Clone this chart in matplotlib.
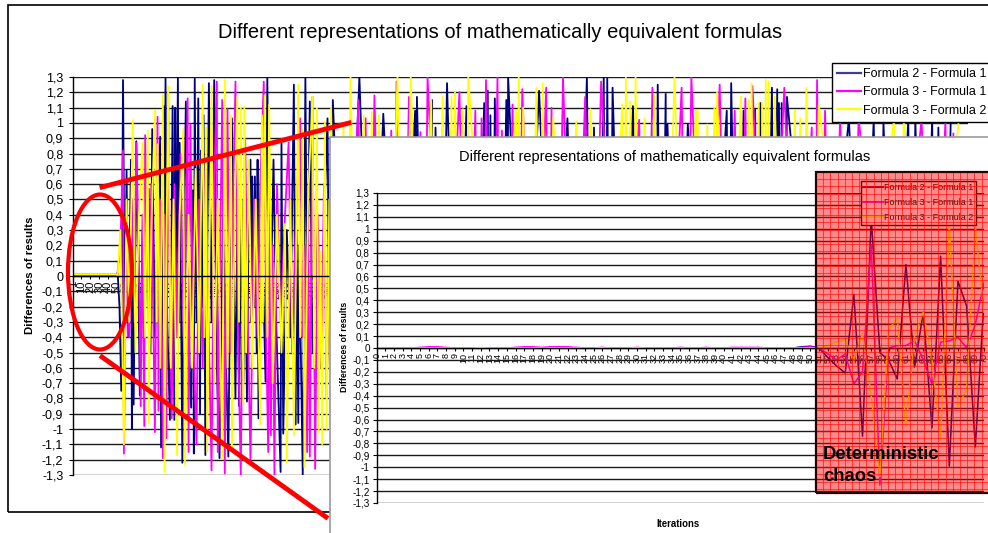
import matplotlib
matplotlib.use("Agg")
import matplotlib.pyplot as plt
from matplotlib.patches import Rectangle, Ellipse
from matplotlib.lines import Line2D
import numpy as np

plt.rcParams['font.family'] = ['Liberation Sans', 'DejaVu Sans']

# ---------------- text ----------------
title = "Different representations of mathematically equivalent formulas"
ylabel = "Differences of results"
xlabel_inset = "Iterations"
annot_lines = ["Deterministic", "chaos"]
series_names = ["Formula 2 - Formula 1", "Formula 3 - Formula 1", "Formula 3 - Formula 2"]
series_colors = ["#000080", "#FF00FF", "#FFFF00"]

# ---------------- main chart data (iteration, difference), fully visible part ----------------
main_f21 = [(1,0.0),(50,0.0),(51,0.02),(53,-0.2),(55,-0.75),(57,1.28),(59,-0.3),(61,0.69),(63,-0.4),(66,0.76),
            (67,-1.0),(68,0.3),(69,-0.84),(72,0.88),(74,0.1),(76,-0.78),(79,0.3),(82,-0.2),(86,0.57),(88,-0.5),
            (90,0.96),(93,-0.4),(96,0.3),(99,0.91),(100,-1.12),(103,1.11),(104,-0.2),(105,1.29),(107,-0.3),(110,-0.94),
            (113,1.11),(115,-0.94),(116,1.1),(117,-0.2),(119,1.3),(120,-0.3),(121,0.87),(124,-1.22),(126,0.4),(128,1.14),
            (131,-0.5),(134,-0.86),(135,0.2),(136,0.56),(137,-1.16),(138,1.29),(140,-0.3),(142,1.16),(144,-0.9),(145,0.82),
            (147,-0.2),(148,1.05),(150,-1.17),(154,1.26),(157,-0.3),(160,1.28),(163,-0.6),(166,-1.19),(170,0.4),(173,-0.5),
            (176,-1.18),(180,1.03),(184,-0.8),(186,0.3),(188,-0.85),(191,0.5),(193,-0.69),(195,0.2),(197,-0.82),(199,0.4),
            (201,0.76),(202,-0.3),(203,0.65),(205,-0.2),(206,0.65),(208,-0.5),(209,0.76),(210,-0.93),(214,0.3),(218,-0.69),
            (220,1.3),(223,-0.4),(227,0.76),(230,-0.3),(235,-1.28),(236,0.87),(238,-1.03),(242,0.3),(246,-0.4),(250,1.25),
            (252,-0.97),(253,0.3),(255,-0.96),(256,0.2),(260,-1.3),(263,1.3),(265,-0.2),(268,1.14),(271,-0.5),(275,0.3),
            (280,-0.6),(285,0.5),(288,1.03),(290,-0.4)]
main_f31 = [(1,0.01),(50,0.01),(51,0.03),(54,0.2),(57,0.82),(58,-1.16),(61,0.3),(64,-0.4),(68,0.5),(70,-0.3),
            (72,0.87),(75,0.1),(77,-0.85),(79,0.4),(81,-0.98),(82,0.92),(86,-0.3),(89,0.6),(93,-1.02),(95,0.3),
            (96,1.04),(97,-0.88),(99,0.5),(102,-1.19),(104,0.4),(106,-1.06),(108,1.2),(110,-0.2),(112,-0.93),(115,0.6),
            (118,-0.4),(122,0.8),(126,-0.5),(130,1.16),(131,-1.15),(133,0.99),(136,-0.3),(140,-1.1),(143,0.5),(147,-0.6),
            (150,0.7),(154,-0.4),(157,-1.27),(160,0.6),(163,1.27),(164,-1.15),(167,0.3),(169,1.15),(172,-1.29),(175,1.09),
            (178,-0.5),(181,0.4),(184,1.27),(187,-0.4),(190,-1.3),(193,0.3),(195,0.89),(198,-0.3),(201,-1.22),(205,0.5),
            (209,-0.4),(212,0.6),(216,1.27),(219,-0.5),(221,-1.15),(223,0.3),(224,-1.04),(226,0.2),(228,-1.3),(231,0.6),
            (235,-0.3),(240,0.4),(244,0.87),(248,-0.5),(252,0.3),(257,1.03),(260,-0.4),(263,0.2),(265,-1.15),(266,0.37),
            (268,-1.18),(271,1.17),(274,-1.26),(277,0.4),(281,-0.6),(284,0.6),(287,-0.8),(290,0.3)]
main_f32 = [(1,0.01),(50,0.01),(51,0.0),(54,0.3),(58,-1.1),(61,0.5),(64,-0.3),(68,1.02),(71,-0.5),(75,0.4),
            (79,0.87),(82,-0.4),(85,0.95),(86,-0.96),(89,0.3),(93,1.08),(95,-0.3),(96,0.86),(99,-0.6),(102,1.18),
            (104,-1.28),(106,0.2),(108,1.24),(111,-0.6),(114,0.5),(118,-1.17),(121,0.4),(125,0.96),(127,-1.23),(131,0.4),
            (135,-0.6),(139,0.7),(143,-0.5),(147,1.25),(149,-0.4),(151,0.97),(152,-1.15),(155,0.3),(157,1.24),(160,-0.7),
            (164,0.5),(169,-1.19),(172,1.28),(175,-0.6),(179,1.05),(180,-1.14),(183,0.4),(186,1.17),(188,-0.3),(190,1.1),
            (193,-0.84),(194,1.11),(196,-0.5),(199,0.76),(203,-0.6),(207,0.5),(212,-0.97),(214,1.05),(215,-0.3),(217,1.18),
            (220,-0.4),(222,1.12),(226,-0.7),(231,0.4),(236,-0.5),(240,0.34),(242,-1.22),(246,0.5),(250,-1.04),(255,1.25),
            (257,-0.4),(260,0.96),(262,-1.25),(266,0.5),(271,1.17),(273,-0.6),(276,1.1),(278,-1.02),(280,0.16),(282,-1.1),
            (285,1.01),(287,-1.0),(290,0.5)]

# peaks still visible above the inset (iterations > 290); lower values there are hidden
strip_f21 = [(294,1.15),(324,1.3),(351,1.06),(387,1.08),(389,1.17),(406,1.15),(410,0.97),(423,1.26),(445,1.11),(465,1.13),
             (469,1.21),(472,1.05),(477,1.16),(490,1.15),(492,1.3),(527,1.21),(559,1.03),(581,1.3),(589,0.97),(600,1.3),
             (604,1.29),(610,1.23),(633,1.11),(657,1.09),(661,1.25),(670,1.19),(672,0.99),(695,0.99),(739,1.08),(744,1.26),
             (758,1.08),(771,1.09),(777,1.13),(790,1.23),(796,1.22),(798,1.13),(801,1.13),(807,1.17),(877,1.03),(905,1.02),
             (916,1.0),(944,1.03),(952,1.02),(971,1.03),(978,0.97),(992,1.02)]
strip_f31 = [(323,1.15),(331,1.03),(341,1.18),(360,0.95),(366,1.27),(380,1.17),(393,0.94),(401,1.3),(437,1.2),(455,1.08),
             (462,1.03),(467,1.28),(480,1.3),(485,0.95),(497,1.12),(508,1.22),(535,1.23),(541,1.1),(554,1.3),(579,1.17),
             (597,1.27),(640,1.02),(655,1.23),(688,1.23),(699,1.3),(731,1.25),(748,1.08),(760,1.16),(768,1.24),(804,1.23),
             (835,0.97),(841,1.28),(850,1.08),(867,1.05),(888,1.03),(959,1.02),(986,1.02),(995,0.93)]
strip_f32 = [(292,1.1),(306,0.97),(314,1.3),(329,1.05),(338,1.07),(346,1.05),(367,1.3),(382,1.3),(405,1.15),(418,1.17),
             (428,1.17),(432,1.2),(441,1.09),(447,1.3),(501,1.08),(504,1.3),(509,1.1),(524,1.23),(531,1.26),(543,1.04),
             (569,1.01),(585,1.09),(621,1.12),(625,1.3),(630,1.14),(636,1.3),(646,1.03),(657,1.19),(680,1.3),(704,1.08),
             (706,1.08),(717,0.99),(725,1.1),(728,1.2),(755,1.17),(764,1.15),(767,1.26),(775,1.13),(779,1.13),(783,1.28),
             (786,1.27),(793,1.17),(816,1.08),(822,1.03),(829,1.23),(843,1.12),(928,1.03),(939,1.02),(1001,1.02)]
hidden_trough = -1.0   # estimate for the unreadable values between the visible peaks

main_xticks = [1] + list(range(10, 1011, 10))

# ---------------- inset data (iterations 0..70) ----------------
inset_iter = list(range(0, 71))
inset_f21 = [0.0, 0.0, 0.0, 0.0, 0.0, 0.0, 0.0, 0.0, 0.0, 0.0,
             0.0, 0.0, 0.0, 0.0, 0.0, 0.0, 0.0, 0.0, 0.0, 0.0,
             0.0, 0.0, 0.0, 0.0, 0.0, 0.0, 0.0, 0.0, 0.0, 0.0,
             0.0, 0.0, 0.0, 0.0, 0.0, 0.0, 0.0, 0.0, 0.0, 0.0,
             0.0, 0.0, 0.0, 0.0, 0.0, 0.0, 0.0, 0.0, 0.0, 0.01,
             0.015, 0.0, -0.08, -0.15, -0.21, 0.45, -0.74, 1.09, -0.04, -0.1,
             -0.26, 0.7, -0.16, 0.3, -0.67, 0.77, -0.99, 0.56, 0.35, -0.83,
             0.4]
inset_f31 = [0.0, 0.0, 0.0, 0.0, 0.0, 0.005, 0.01, 0.01, 0.005, 0.0,
             0.0, 0.0, 0.0, 0.0, 0.0, 0.0, 0.005, 0.01, 0.01, 0.005,
             0.01, 0.01, 0.01, 0.005, 0.0, 0.0, 0.005, 0.0, 0.0, 0.0,
             0.005, 0.0, 0.0, 0.0, 0.0, 0.005, 0.0, 0.0, 0.005, 0.0,
             0.0, 0.005, 0.005, 0.005, 0.005, 0.0, 0.0, 0.0, 0.0, 0.005,
             0.01, 0.0, -0.05, -0.1, -0.05, -0.3, -0.2, 0.87, -1.15, 0.0,
             0.02, 0.02, 0.06, -0.1, -0.3, 0.05, 0.06, 0.09, 0.0, 0.2,
             0.55]
inset_f32 = [0.0, 0.0, 0.0, 0.0, 0.0, 0.0, 0.0, 0.0, 0.0, 0.0,
             0.0, 0.0, 0.003, 0.0, 0.0, 0.0, 0.0, 0.0, 0.0, 0.0,
             0.0, 0.0, 0.0, 0.0, 0.0, 0.0, 0.003, 0.0, 0.0, 0.0,
             0.003, 0.0, 0.0, 0.0, 0.0, 0.0, 0.0, 0.0, 0.0, 0.0,
             0.0, 0.0, 0.0, 0.0, 0.0, 0.0, 0.0, 0.0, 0.0, 0.0,
             0.0, 0.0, 0.02, 0.05, 0.07, -0.1, 0.12, -0.4, -1.08, 0.15,
             0.25, -0.66, 0.1, 0.3, -0.1, -0.76, 1.05, -0.49, -0.35, 1.02,
             0.3]

y_ticks = [round(v * 0.1, 1) for v in range(-13, 14)]


def comma(v):
    s = f"{v:.1f}"
    if s in ("0.0", "-0.0"):
        return "0"
    if s.endswith(".0"):
        s = s[:-2]
    return s.replace(".", ",")


def build(main_pts, strip_pts):
    xs = [p[0] for p in main_pts]
    ys = [p[1] for p in main_pts]
    prev = xs[-1]
    for it, v in strip_pts:
        xs.append((prev + it) / 2.0)
        ys.append(hidden_trough)
        xs.append(it)
        ys.append(v)
        prev = it
    return xs, ys


FW, FH = 988, 533


def fxy(px, py):
    return (px / FW, 1 - py / FH)


def fbox(x0, y0, x1, y1):
    return [x0 / FW, 1 - y1 / FH, (x1 - x0) / FW, (y1 - y0) / FH]


def style_axes(a, ysize, xsize, ypad):
    for sp in ("top", "right"):
        a.spines[sp].set_visible(False)
    a.spines["bottom"].set_position(("data", 0))
    a.spines["left"].set_linewidth(1.0)
    a.spines["bottom"].set_linewidth(1.0)
    a.set_ylim(-1.3, 1.3)
    a.set_yticks(y_ticks)
    a.set_yticklabels([comma(v) for v in y_ticks])
    a.yaxis.grid(True, color="#1a1a1a", lw=1.0)
    a.set_axisbelow(True)
    a.tick_params(axis="y", length=3, width=0.8, pad=ypad, labelsize=ysize)
    a.tick_params(axis="x", length=2.5, width=0.8, pad=1, labelsize=xsize, labelrotation=90)


fig = plt.figure(figsize=(FW / 100, FH / 100), dpi=100)
fig.patch.set_facecolor("white")

# main chart area frame
fig.add_artist(Rectangle(fxy(8, 512), (1200 - 8) / FW, (512 - 5) / FH, transform=fig.transFigure,
                         fill=False, edgecolor="black", lw=1.2, zorder=0.5))

# ---------------- main chart ----------------
ax = fig.add_axes(fbox(73, 77, 968, 475), zorder=1)
ax.set_facecolor("none")
for (m, s), col in zip([(main_f21, strip_f21), (main_f31, strip_f31), (main_f32, strip_f32)], series_colors):
    xs, ys = build(m, s)
    ax.plot(xs, ys, color=col, lw=1.3)
ax.set_xlim(0.5, 1011.5)
style_axes(ax, 9, 8, 4)
ax.set_xticks(main_xticks)
ax.set_xticklabels([str(v) for v in main_xticks], rotation=90, va="top")

handles = [Line2D([], [], color=c, lw=1.6) for c in ["#3c3c9a", "#FF00FF", "#FFFF00"]]
leg = ax.legend(handles, series_names, loc="upper left", bbox_to_anchor=fxy(832, 63),
                bbox_transform=fig.transFigure, fontsize=9, frameon=True, fancybox=False,
                edgecolor="black", framealpha=1, borderpad=0.4, labelspacing=0.5,
                handlelength=1.9, handletextpad=0.2, borderaxespad=0)
leg.get_frame().set_linewidth(1.0)
leg.set_zorder(10)

fig.text(500 / FW, 1 - 32 / FH, title, ha="center", va="center", fontsize=14.5, zorder=1)
fig.text(30 / FW, 1 - 275 / FH, ylabel, ha="center", va="center", rotation=90,
         fontsize=8.2, fontweight="bold", zorder=1)

# red annotation shapes
fig.add_artist(Ellipse(fxy(100, 272), 64 / FW, 155 / FH, transform=fig.transFigure,
                       fill=False, edgecolor="#ff0000", lw=3, zorder=2))
fig.add_artist(Line2D([102 / FW, 349 / FW], [1 - 187 / FH, 1 - 123 / FH], transform=fig.transFigure,
                      color="#ff0000", lw=3.5, zorder=2))
fig.add_artist(Line2D([102 / FW, 326 / FW], [1 - 357 / FH, 1 - 517 / FH], transform=fig.transFigure,
                      color="#ff0000", lw=3.5, zorder=2))

# ---------------- inset chart ----------------
fig.add_artist(Rectangle(fxy(330, 600), (1200 - 330) / FW, (600 - 137) / FH, transform=fig.transFigure,
                         facecolor="white", edgecolor="#9a9a9a", lw=1.2, zorder=3))
ax2 = fig.add_axes(fbox(376.7, 193, 984, 503), zorder=4)
ax2.set_facecolor("white")
for vals, col in zip([inset_f21, inset_f31, inset_f32], series_colors):
    ax2.plot(inset_iter, vals, color=col, lw=1.1)
ax2.set_xlim(0, 70)
style_axes(ax2, 7.2, 6.5, 2)
ax2.set_xticks(inset_iter)
ax2.set_xticklabels([str(v) for v in inset_iter], rotation=90, va="top")

handles2 = [Line2D([], [], color=c, lw=1.3) for c in series_colors]
leg2 = ax2.legend(handles2, series_names, loc="upper left", bbox_to_anchor=fxy(860.5, 180.5),
                  bbox_transform=fig.transFigure, fontsize=6.5, frameon=True, fancybox=False,
                  edgecolor="black", framealpha=1, borderpad=0.25, labelspacing=0.7,
                  handlelength=2.2, handletextpad=0.2, borderaxespad=0)
leg2.get_frame().set_linewidth(1.0)

fig.text(665 / FW, 1 - 157 / FH, title, ha="center", va="center", fontsize=10.5, zorder=4)
fig.text(344 / FW, 1 - 347 / FH, ylabel, ha="center", va="center", rotation=90,
         fontsize=6.3, fontweight="bold", zorder=4)
fig.text(678 / FW, 1 - 524 / FH, xlabel_inset, ha="center", va="center",
         fontsize=6.9, fontweight="bold", zorder=4)

# ---------------- red "chaos" highlight ----------------
rx0, ry0, rx1, ry1 = 816, 172, 1000, 493
fig.add_artist(Rectangle(fxy(rx0, ry1), (rx1 - rx0) / FW, (ry1 - ry0) / FH, transform=fig.transFigure,
                         facecolor=(1, 0, 0, 0.46), edgecolor="none", zorder=5))
for gx in np.arange(rx0 + 7.2, rx1, 7.2):
    fig.add_artist(Line2D([gx / FW, gx / FW], [1 - ry0 / FH, 1 - ry1 / FH], transform=fig.transFigure,
                          color=(1, 0, 0, 0.7), lw=0.6, zorder=5.1))
for gy in np.arange(ry0 + 7.2, ry1, 7.2):
    fig.add_artist(Line2D([rx0 / FW, rx1 / FW], [1 - gy / FH, 1 - gy / FH], transform=fig.transFigure,
                          color=(1, 0, 0, 0.7), lw=0.6, zorder=5.1))
fig.add_artist(Rectangle(fxy(rx0, ry1), (rx1 - rx0) / FW, (ry1 - ry0) / FH, transform=fig.transFigure,
                         fill=False, edgecolor="#2a0000", lw=1.6, zorder=5.2))

fig.text(823 / FW, 1 - 459 / FH, annot_lines[0], ha="left", va="baseline", fontsize=13.3,
         fontweight="bold", color="black", zorder=6)
fig.text(823 / FW, 1 - 481 / FH, annot_lines[1], ha="left", va="baseline", fontsize=13.3,
         fontweight="bold", color="black", zorder=6)

fig.savefig("out.png", dpi=100)
